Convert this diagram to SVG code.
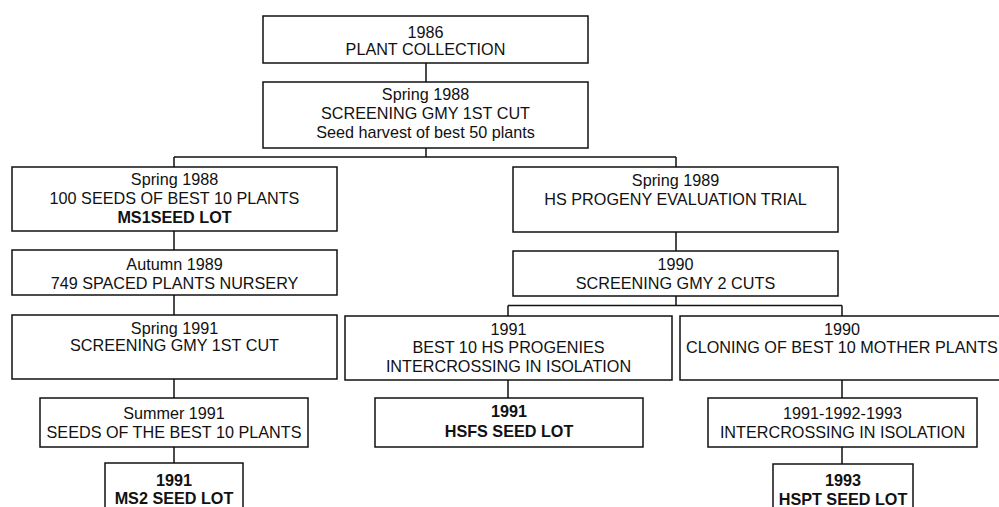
<svg xmlns="http://www.w3.org/2000/svg" width="999" height="507" viewBox="0 0 999 507">
<style>
.box{fill:#fff;stroke:#111;stroke-width:1.5}
.c{fill:none;stroke:#111;stroke-width:1.5}
text{font-family:"Liberation Sans",Arial,sans-serif;font-size:16.2px;fill:#111;text-anchor:middle}
.b{font-weight:bold}
</style>
<rect width="999" height="507" fill="#fff"/>
<g id="connectors">
<path class="c" d="M426,63V82 M426,148V157 M174,157H676 M174,157V167 M676,157V167 M174,231V250 M174,295V315 M174,379V398 M174,447V463 M676,232V251 M676,296V305.5 M508,305.5H842 M508,305.5V316 M842,305.5V316 M508,380V398 M842,380V398 M842,447V464"/>
</g>
<g id="n1"><rect class="box" x="263" y="16" width="325" height="47"/>
<text x="425.5" y="37.5">1986</text><text x="425.5" y="54.5">PLANT COLLECTION</text></g>
<g id="n2"><rect class="box" x="263" y="82" width="325" height="66"/>
<text x="425.5" y="99.5">Spring 1988</text><text x="425.5" y="119">SCREENING GMY 1ST CUT</text><text x="425.5" y="138">Seed harvest of best 50 plants</text></g>
<g id="n3"><rect class="box" x="12" y="167" width="325" height="64"/>
<text x="174.5" y="184.5">Spring 1988</text><text x="174.5" y="203.5">100 SEEDS OF BEST 10 PLANTS</text><text x="174.5" y="222.5" class="b">MS1SEED LOT</text></g>
<g id="n4"><rect class="box" x="12" y="250" width="325" height="45"/>
<text x="174.5" y="269.5">Autumn 1989</text><text x="174.5" y="288.5">749 SPACED PLANTS NURSERY</text></g>
<g id="n5"><rect class="box" x="12" y="315" width="325" height="64"/>
<text x="174.5" y="333.5">Spring 1991</text><text x="174.5" y="351">SCREENING GMY 1ST CUT</text></g>
<g id="n6"><rect class="box" x="40" y="398" width="268" height="49"/>
<text x="174" y="418.5">Summer 1991</text><text x="174" y="437.5">SEEDS OF THE BEST 10 PLANTS</text></g>
<g id="n7"><rect class="box" x="105" y="463" width="138" height="60"/>
<text x="174" y="485.5" class="b">1991</text><text x="174" y="504" class="b">MS2 SEED LOT</text></g>
<g id="n8"><rect class="box" x="513" y="167" width="325" height="65"/>
<text x="675.5" y="185.5">Spring 1989</text><text x="675.5" y="204.5">HS PROGENY EVALUATION TRIAL</text></g>
<g id="n9"><rect class="box" x="513" y="251" width="325" height="45"/>
<text x="675.5" y="269.5">1990</text><text x="675.5" y="288.5">SCREENING GMY 2 CUTS</text></g>
<g id="n10"><rect class="box" x="345" y="316" width="327" height="64"/>
<text x="508.5" y="335">1991</text><text x="508.5" y="353">BEST 10 HS PROGENIES</text><text x="508.5" y="371.5">INTERCROSSING IN ISOLATION</text></g>
<g id="n11"><rect class="box" x="680" y="316" width="330" height="64"/>
<text x="842" y="335">1990</text><text x="842" y="353">CLONING OF BEST 10 MOTHER PLANTS</text></g>
<g id="n12"><rect class="box" x="375" y="398" width="268" height="49"/>
<text x="509" y="416.5" class="b">1991</text><text x="509" y="436.5" class="b">HSFS SEED LOT</text></g>
<g id="n13"><rect class="box" x="708" y="398" width="269" height="49"/>
<text x="842.5" y="418.5">1991-1992-1993</text><text x="842.5" y="437.5">INTERCROSSING IN ISOLATION</text></g>
<g id="n14"><rect class="box" x="773" y="464" width="140" height="60"/>
<text x="843" y="485.5" class="b">1993</text><text x="843" y="504.5" class="b">HSPT SEED LOT</text></g>
</svg>
